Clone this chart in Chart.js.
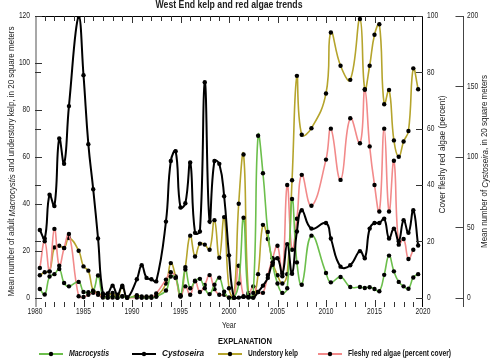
<!DOCTYPE html>
<html>
<head>
<meta charset="utf-8">
<script src="https://cdn.jsdelivr.net/npm/chart.js@4.4.1/dist/chart.umd.min.js"></script>
<style>
html, body { margin: 0; padding: 0; background: #fff; }
</style>
</head>
<body>
<canvas id="graph" width="490" height="360"></canvas>
<script>
// survey dates (decimal year), shared by all four series
const surveyYears = [1980.5, 1981, 1981.5, 1982, 1982.5, 1983, 1983.5, 1984.5, 1985, 1985.5, 1986, 1986.5,
    1987, 1987.5, 1988, 1988.5, 1989, 1989.5, 1990.5, 1991, 1991.5, 1992, 1992.5,
    1993.5, 1994, 1994.5, 1995, 1995.5, 1996, 1996.5, 1997, 1997.5, 1998, 1998.5, 1999, 1999.5, 2000, 2000.5,
    2001, 2001.5, 2002, 2002.5, 2003, 2003.5, 2004, 2004.5, 2005, 2005.5, 2006, 2006.5, 2007, 2007.5,
    2008.5, 2010, 2010.5, 2011.5, 2012.5, 2013.5, 2014, 2014.5, 2015, 2015.5, 2016, 2016.5, 2017, 2017.5, 2018, 2018.5, 2019, 2019.5];

// mean number per 20 m2 (left axis)
const macrocystis = [3.7, 1.3, 9, 10, 12.2, 6.2, 4.8, 6.7, 2.4, 2.3, 2.7, 9.4,
    0.5, 0, 0.5, 0, 0.5, 0, 0.5, 0, 0, 0, 0.5,
    3, 9, 8.5, 1, 12, 4, 7, 8, 4, 1.5, 5.5, 8.5, 2.5, 0, 0,
    6, 34, 0, 2, 69, 53, 28, 14, 6, 2, 4, 42, 15, 5.5,
    26.4, 10.5, 6.5, 8.8, 4.5, 4.5, 4.1, 4.4, 3.7, 2.7, 9.7, 17.9, 11.2, 6.7, 4.8, 3.8, 8.6, 10];

const understory = [9.5, 10.8, 11.2, 21.4, 22.1, 21.1, 25.4, 20, 13.3, 11.5, 3, 2,
    0.5, 0.5, 2, 0, 4.5, 0, 1, 0.5, 0.5, 0.5, 0.5,
    6, 14.7, 9, 0.5, 13, 26.4, 17.5, 23, 22.6, 20.4, 33, 17, 34.3, 4, 0,
    40, 61, 2, 0, 10, 31, 25, 15, 9.5, 6, 10, 50, 94.5, 69.4,
    72.2, 87, 113, 98.8, 92.8, 118.7, 88.8, 98.8, 112, 116.5, 82.4, 88.5, 67, 60, 66.5, 71, 97.7, 88.8];

// mean number of Cystoseira per 20 m2 (outer right axis)
const cystoseira = [48, 42, 73, 65, 113, 95, 136, 200, 158, 109, 77, 42,
    3, 3, 8.5, 2, 8.5, 0, 13, 23, 14, 13, 11.5,
    54, 97, 104, 64, 67, 96, 46, 47, 153, 54, 97, 95, 72, 30, 0,
    0, 0.5, 0.5, 0, 4, 8.5, 14, 25, 28, 17, 38, 17, 47, 62,
    49, 53, 42, 22, 23, 33, 28, 49, 53, 53, 56, 42, 49, 40, 55, 46, 62, 37];

// fleshy red algae cover, percent (inner right axis)
const redAlgae = [10.5, 20, 9.3, 24.4, 11.3, 17.6, 22.6, 0.5, 0.2, 1, 1.7, 1,
    0, 0, 0, 0, 0.5, 0, 0, 0, 0, 0, 1.5,
    6.4, 9, 7, 0.5, 4, 1, 6, 2, 4.5, 8, 3, 1, 1, 0, 0,
    11.3, 0.5, 1, 4, 2, 1.7, 8, 14, 18.4, 7.6, 40, 17, 28, 43.6,
    32.6, 49, 60, 41.8, 63.7, 54.8, 73.8, 53.7, 40, 30.6, 60, 30.6, 48.6, 18.8, 20.8, 13.7, 17, null];

const yearTicks = [1980, 1985, 1990, 1995, 2000, 2005, 2010, 2015, 2020];
const kelpTicks = [0, 20, 40, 60, 80, 100, 120];
const redTicks = [0, 20, 40, 60, 80, 100];
const cystTicks = [0, 50, 100, 150, 200];

const FONT = '"Liberation Sans", Arial, sans-serif';
const GREEN = '#6cbf4c';
const OLIVE = '#b5a42c';
const PINK = '#f28a8a';
const SQUEEZE = 0.74; // narrow look of the original type

function toPoints(values) {
    const pts = [];
    surveyYears.forEach((yr, i) => {
        if (values[i] !== null) pts.push({ x: yr, y: values[i] });
    });
    return pts;
}

function series(label, values, color, axis, order, width) {
    return {
        label: label,
        data: toPoints(values),
        yAxisID: axis,
        borderColor: color,
        borderWidth: width,
        backgroundColor: '#000',
        pointBackgroundColor: '#000',
        pointBorderWidth: 0,
        pointRadius: 2.2,
        tension: 0.45,
        order: order,
    };
}

// text made of plain / italic parts; squeezed horizontally, optional target width
function text(ctx, parts, x, y, o) {
    const size = o.size || 9;
    const fontOf = (p) => (p.i ? 'italic ' : '') + (o.bold ? 'bold ' : '') + size + 'px ' + FONT;
    ctx.save();
    ctx.translate(x, y);
    if (o.rot) ctx.rotate(o.rot);
    ctx.textBaseline = 'middle';
    ctx.textAlign = 'left';
    let total = 0;
    parts.forEach(p => { ctx.font = fontOf(p); total += ctx.measureText(p.t).width; });
    const sq = o.width ? o.width / total : SQUEEZE;
    ctx.scale(sq, 1);
    let cx = o.align === 'left' ? 0 : o.align === 'right' ? -total : -total / 2;
    parts.forEach(p => {
        ctx.font = fontOf(p);
        ctx.fillText(p.t, cx, 0);
        cx += ctx.measureText(p.t).width;
    });
    ctx.restore();
}

const extras = {
    id: 'extras',
    afterDraw(chart) {
        const { ctx, chartArea: a, scales } = chart;
        const sx = scales.x, sy = scales.y, sr = scales.y1, sc = scales.y2;
        ctx.save();

        // frame (top and right; left axis is grey)
        ctx.strokeStyle = '#000';
        ctx.lineWidth = 1;
        ctx.beginPath();
        ctx.moveTo(a.left, a.top + 0.5); ctx.lineTo(a.right, a.top + 0.5);
        ctx.moveTo(a.right - 0.5, a.top); ctx.lineTo(a.right - 0.5, a.bottom);
        ctx.stroke();
        ctx.strokeStyle = '#a8a8a8';
        ctx.lineWidth = 2;
        ctx.beginPath();
        ctx.moveTo(a.left + 1, a.top); ctx.lineTo(a.left + 1, a.bottom);
        ctx.stroke();

        // year ticks, inward, top and bottom
        ctx.lineWidth = 1;
        ctx.strokeStyle = '#333';
        ctx.beginPath();
        for (let yr = 1981; yr < 2020; yr++) {
            const px = Math.round(sx.getPixelForValue(yr)) + 0.5;
            const len = yr % 5 === 0 ? 7 : 5;
            ctx.moveTo(px, a.top); ctx.lineTo(px, a.top + len);
            ctx.moveTo(px, a.bottom); ctx.lineTo(px, a.bottom - len);
        }
        // left and right edge ticks
        kelpTicks.forEach(v => {
            const py = Math.round(sy.getPixelForValue(v)) + 0.5;
            ctx.moveTo(a.left, py); ctx.lineTo(a.left + 7, py);
        });
        redTicks.forEach(v => {
            const py = Math.round(sr.getPixelForValue(v)) + 0.5;
            ctx.moveTo(a.left, py); ctx.lineTo(a.left + 6, py);
            ctx.moveTo(a.right, py); ctx.lineTo(a.right - 7, py);
        });
        ctx.stroke();

        // Cystoseira axis line and ticks
        const cx = Math.round(sc.left) + 0.5;
        ctx.strokeStyle = '#444';
        ctx.beginPath();
        ctx.moveTo(cx, a.top); ctx.lineTo(cx, a.bottom);
        cystTicks.forEach(v => {
            const py = Math.round(sc.getPixelForValue(v)) + 0.5;
            ctx.moveTo(cx, py); ctx.lineTo(cx - 8, py);
        });
        ctx.stroke();

        // tick labels
        ctx.fillStyle = '#222';
        yearTicks.forEach(v => text(ctx, [{ t: String(v) }], sx.getPixelForValue(v), 312, { size: 9 }));
        kelpTicks.forEach(v => text(ctx, [{ t: String(v) }], a.left - 5, sy.getPixelForValue(v), { size: 9, align: 'right' }));
        redTicks.forEach(v => text(ctx, [{ t: String(v) }], a.right + 4, sr.getPixelForValue(v), { size: 9, align: 'left' }));
        cystTicks.forEach(v => text(ctx, [{ t: String(v) }], sc.left + 4, sc.getPixelForValue(v), { size: 9, align: 'left' }));

        // title and axis titles
        const midY = (a.top + a.bottom) / 2;
        text(ctx, [{ t: 'West End kelp and red algae trends' }], (a.left + a.right) / 2, 5.5, { size: 10, bold: true, width: 147 });
        text(ctx, [{ t: 'Year' }], (a.left + a.right) / 2, 325, { size: 9.5 });
        text(ctx, [{ t: 'Mean number of adult ' }, { t: 'Macrocystis', i: true }, { t: ' and understory kelp, in 20 square meters' }],
            12, midY, { rot: -Math.PI / 2, size: 9, width: 270 });
        text(ctx, [{ t: 'Cover fleshy red algae (percent)' }], 443, midY - 7, { rot: -Math.PI / 2, size: 9, width: 118 });
        text(ctx, [{ t: 'Mean number of ' }, { t: 'Cystoseira', i: true }, { t: ', in 20 square meters' }],
            485, midY, { rot: -Math.PI / 2, size: 9, width: 173 });

        // explanation
        ctx.fillStyle = '#111';
        text(ctx, [{ t: 'EXPLANATION' }], 245, 341, { size: 9.5, bold: true, width: 54 });
        const items = [
            { x: 39, color: GREEN, parts: [{ t: 'Macrocystis', i: true }], w: 40 },
            { x: 132, color: '#000', parts: [{ t: 'Cystoseira', i: true }], w: 42 },
            { x: 218, color: OLIVE, parts: [{ t: 'Understory kelp' }], w: 50 },
            { x: 318, color: PINK, parts: [{ t: 'Fleshy red algae (percent cover)' }], w: 103 },
        ];
        const ly = 354;
        items.forEach(it => {
            ctx.strokeStyle = it.color;
            ctx.lineWidth = 2;
            ctx.beginPath();
            ctx.moveTo(it.x, ly); ctx.lineTo(it.x + 24, ly);
            ctx.stroke();
            ctx.fillStyle = '#000';
            ctx.beginPath();
            ctx.arc(it.x + 12, ly, 2.2, 0, Math.PI * 2);
            ctx.fill();
            ctx.fillStyle = '#111';
            text(ctx, it.parts, it.x + 30, ly, { size: 9, bold: true, align: 'left', width: it.w });
        });
        ctx.restore();
    }
};

const hidden = { display: false };

const ctx = document.getElementById('graph').getContext('2d');
const chart = new Chart(ctx, {
    type: 'line',
    data: {
        datasets: [
            series('Macrocystis', macrocystis, GREEN, 'y', 2, 1.6),
            series('Cystoseira', cystoseira, '#000', 'y2', 1, 2),
            series('Understory kelp', understory, OLIVE, 'y', 4, 1.6),
            series('Fleshy red algae (percent cover)', redAlgae, PINK, 'y1', 3, 1.6),
        ],
    },
    options: {
        responsive: false,
        animation: false,
        layout: { padding: { top: 16, left: 0, right: 0, bottom: 0 } },
        plugins: {
            legend: { display: false },
            title: { display: false },
            tooltip: { enabled: false },
        },
        scales: {
            x: {
                type: 'linear',
                position: 'bottom',
                min: 1980,
                max: 2020,
                afterFit: (s) => { s.height = 53; },
                grid: { display: false, drawTicks: false },
                border: hidden,
                ticks: hidden,
            },
            y: {
                position: 'left',
                min: -4,
                max: 120,
                afterFit: (s) => { s.width = 35; },
                grid: { display: false, drawTicks: false },
                border: hidden,
                ticks: hidden,
            },
            y1: {
                position: 'right',
                weight: 0,
                min: -100 * 4 / 120,
                max: 100,
                afterFit: (s) => { s.width = 40; },
                grid: { display: false, drawTicks: false },
                border: hidden,
                ticks: hidden,
            },
            y2: {
                position: 'right',
                weight: 1,
                min: -200 * 4 / 120,
                max: 200,
                afterFit: (s) => { s.width = 27; },
                grid: { display: false, drawTicks: false },
                border: hidden,
                ticks: hidden,
            },
        },
    },
    plugins: [extras],
});
</script>
</body>
</html>
